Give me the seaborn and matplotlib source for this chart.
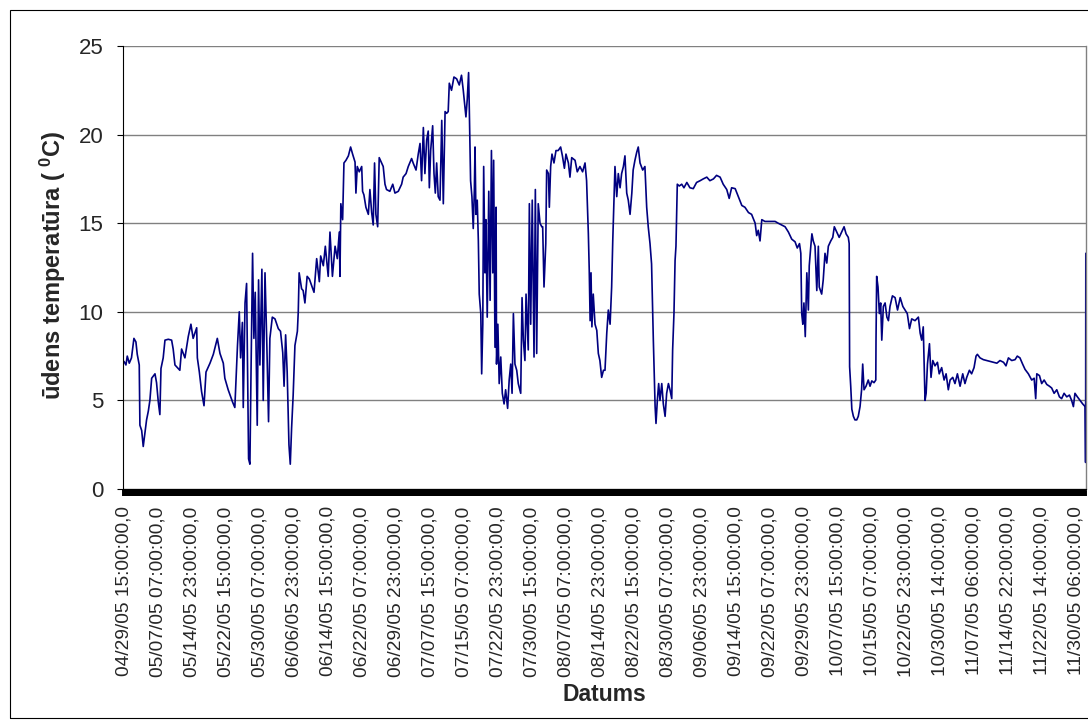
import matplotlib
matplotlib.use("Agg")
import matplotlib.pyplot as plt
from matplotlib.patches import Rectangle
from matplotlib.ticker import MultipleLocator
import numpy as np
import seaborn as sns

# water temperature, x = days since 04/29/05 15:00
day = [
    0.0, 0.45, 0.75, 1.2, 1.7, 2.25, 2.7, 3.0, 3.45, 3.6, 4.0, 4.35, 4.75, 5.1, 5.5, 5.85,
    6.25, 7.0, 7.35, 7.75, 8.1, 8.35, 8.85, 9.25, 10.0, 10.75, 11.1, 11.5, 12.6, 13.0, 13.75,
    14.5, 15.1, 15.6, 16.4, 16.55, 17.0, 17.5, 18.05, 18.5, 19.4, 20.15, 21.05, 21.65, 22.4,
    22.75, 23.5, 24.5, 25.0, 25.4, 25.6, 26.0, 26.3, 26.7, 26.9, 27.3, 27.65, 27.9, 28.1,
    28.4, 28.65, 29.0, 29.3, 29.6, 30.05, 30.35, 30.65, 31.1, 31.4, 31.8, 32.2, 32.6, 32.9,
    33.45, 34.05, 34.8, 35.3, 35.8, 36.1, 36.45, 36.8, 37.2, 37.5, 37.8, 38.15, 38.55, 39.1,
    39.3, 39.5, 40.05, 40.4, 40.8, 41.3, 41.8, 42.3, 42.85, 43.45, 44.05, 44.35, 44.95, 45.4,
    46.05, 46.45, 47.0, 47.6, 48.1, 48.55,
    48.7, 48.9, 49.3, 49.6, 50.05, 50.6, 51.1, 51.55, 52.1, 52.3, 52.6, 53.05, 53.6, 53.8,
    54.1, 54.55, 55.1, 55.45, 55.85, 56.2, 56.5, 56.8, 57.2, 57.55, 58.1, 58.45, 58.85, 59.2,
    59.95, 60.6, 61.1, 61.85, 62.6, 62.95, 63.6, 64.1, 64.85, 65.2, 65.85, 66.35, 66.75, 67.1,
    67.5, 67.85, 68.25, 68.6, 68.85, 69.15, 69.6, 69.9, 70.2, 70.5, 70.85, 71.25, 71.65, 72.0,
    72.4, 72.75, 73.1, 73.35, 73.85, 74.4, 75.0, 75.6, 76.1, 76.5, 76.85, 77.1, 77.4, 77.7,
    77.85, 78.15, 78.45, 78.75, 79.0, 79.15, 79.35, 79.65, 79.9, 80.1, 80.45, 80.65, 80.9,
    81.1, 81.4, 81.6, 81.9, 82.25, 82.55, 82.85, 83.15, 83.35, 83.65, 83.9, 84.0, 84.3, 84.6,
    84.95, 85.3, 85.7, 86.05, 86.5, 86.85, 87.2, 87.5, 87.8, 88.15, 88.55, 88.9, 89.45, 89.75,
    90.05, 90.4, 90.65, 91.15, 91.4, 91.7, 92.05, 92.45, 92.75, 93.05, 93.4,
    93.8, 94.2, 94.4, 94.7, 95.1, 95.3, 95.7, 95.9, 96.2, 96.5, 96.95, 97.4, 97.9, 98.45,
    98.85, 99.3, 99.65, 100.2, 100.55, 100.95, 101.7, 102.2, 102.8, 103.4, 103.95, 104.3,
    104.7, 104.9, 105.1, 105.3, 105.5, 105.8, 106.2, 106.6, 106.95, 107.3, 107.7, 108.1,
    108.45, 108.85, 109.2, 109.6, 109.95, 110.2, 110.5, 110.7, 111.1, 111.45, 111.85, 112.2,
    112.6, 112.95, 113.35, 113.7, 114.1, 114.5, 114.8, 115.2, 115.6, 115.95, 116.35, 116.95,
    117.45, 117.85, 118.2, 118.6, 118.95, 119.35, 119.75, 119.95, 120.25, 120.55, 120.85,
    121.25, 121.6, 122.0, 122.35, 122.75, 123.1, 123.5, 123.7, 124.0, 124.25, 124.45, 124.75,
    125.2, 125.75, 126.25, 126.9, 127.6, 128.35, 129.1, 129.9, 130.6, 131.4, 132.1, 132.9,
    133.6, 134.4,
    135.1, 135.9, 136.45, 137.0, 137.8, 138.5, 139.3, 140.0, 140.8, 141.5, 142.3, 142.65,
    143.0, 143.4, 143.8, 144.5, 145.65, 146.8, 147.5, 148.3, 149.05, 149.8, 150.55, 151.3,
    151.8, 152.3, 152.6, 152.8, 153.05, 153.3, 153.6, 153.95, 154.3, 154.5, 154.85, 155.1,
    155.4, 155.8, 156.2, 156.55, 156.75, 157.3, 157.65, 158.05, 158.45, 158.8, 159.35, 159.8,
    160.15, 160.7, 161.25, 161.8, 162.35, 162.8, 163.3, 163.5, 163.6, 163.85, 164.1, 164.45,
    164.8, 165.2, 165.55, 165.95, 166.3, 166.55, 166.85, 167.3, 167.8, 168.2, 168.6, 169.1,
    169.5, 169.55, 169.7, 170.0, 170.3, 170.6, 170.85, 171.2, 171.6, 172.0, 172.35, 172.7,
    173.25, 173.85, 174.4, 175.0, 175.6, 176.1, 176.6, 177.1, 177.6, 178.35, 179.1,
    179.5, 179.85, 180.2, 180.6, 180.85, 181.15, 181.6, 181.95, 182.35, 182.85, 183.4, 183.8,
    184.35, 184.9, 185.35, 185.85, 186.25, 186.85, 187.35, 187.9, 188.5, 189.1, 189.6, 190.0,
    190.6, 191.1, 191.65, 192.1, 192.4, 193.0, 193.75, 194.5, 195.25, 196.0, 196.8, 197.5,
    198.3, 198.85, 199.4, 200.15, 200.9, 201.4, 202.0, 202.6, 203.15, 203.9, 204.65, 205.2,
    205.55, 205.8, 206.4, 206.9, 207.45, 208.05, 208.65, 209.15, 209.7, 210.3, 210.9, 211.4,
    211.95, 212.55, 213.15, 213.65, 214.05, 214.4, 214.95, 215.55, 216.15, 216.7, 216.8,
    216.85,
]
temp = [
    7.2, 7.0, 7.5, 7.1, 7.4, 8.5, 8.3, 7.6, 7.0, 3.6, 3.3, 2.4, 3.2, 3.9, 4.4, 5.0,
    6.25, 6.5, 6.0, 4.9, 4.2, 6.8, 7.4, 8.4, 8.45, 8.4, 7.9, 7.0, 6.7, 7.9, 7.4,
    8.6, 9.3, 8.5, 9.1, 7.4, 6.6, 5.5, 4.7, 6.6, 7.1, 7.6, 8.5, 7.65, 7.1,
    6.25, 5.6, 4.9, 4.6, 7.0, 8.1, 10.0, 7.4, 9.4, 4.6, 10.5, 11.6, 6.1, 1.7,
    1.4, 6.6, 13.3, 8.5, 11.1, 3.6, 11.8, 7.0, 12.4, 5.0, 12.2, 8.3, 3.8, 8.5,
    9.7, 9.6, 9.05, 8.9, 7.7, 5.8, 8.7, 6.6, 2.5, 1.4, 3.45, 5.3, 8.1, 8.9,
    10.0, 12.2, 11.3, 11.2, 10.5, 12.0, 11.85, 11.5, 11.1, 13.0, 11.7, 13.15, 12.6, 13.7,
    12.0, 14.5, 12.0, 13.7, 13.0, 14.5,
    12.0, 16.1, 15.2, 18.4, 18.55, 18.8, 19.3, 18.9, 18.45, 16.7, 18.2, 17.9, 18.2, 16.8,
    16.6, 15.9, 15.5, 16.9, 15.6, 14.9, 18.4, 15.5, 14.8, 18.7, 18.4, 18.2, 17.2, 16.9,
    16.8, 17.2, 16.7, 16.8, 17.2, 17.6, 17.8, 18.2, 18.65, 18.4, 18.0, 18.9, 19.5, 17.4,
    20.4, 17.8, 19.7, 20.2, 17.0, 19.1, 20.5, 17.8, 16.7, 18.4, 16.5, 16.3, 20.8, 16.1,
    21.3, 21.2, 21.3, 22.9, 22.5, 23.25, 23.15, 22.8, 23.35, 22.5, 21.6, 21.0, 22.0, 23.5,
    21.6, 17.4, 16.5, 14.7, 16.9, 19.3, 15.5, 16.3, 14.0, 11.0, 9.9, 6.5, 9.3,
    18.2, 12.2, 15.2, 9.7, 16.8, 10.65, 19.1, 12.2, 18.55, 8.0, 15.9, 7.05, 9.3, 5.95,
    7.45, 5.4, 4.8, 5.6, 4.55, 6.15, 7.05, 5.4, 9.9, 7.05, 6.7, 5.95, 5.4, 10.8,
    8.4, 7.25, 11.0, 7.85, 16.1, 9.3, 16.3, 7.45, 16.9, 7.65, 16.1,
    15.0, 14.8, 14.8, 11.4, 13.85, 18.0, 17.8, 15.9, 18.2, 18.9, 18.4, 19.1, 19.1, 19.3,
    18.8, 18.1, 18.9, 18.4, 17.6, 18.7, 18.55, 17.9, 18.2, 17.9, 18.4, 17.4,
    14.4, 12.35, 9.5, 12.2, 9.15, 11.0, 9.3, 8.95, 7.65, 7.25, 6.3, 6.7,
    6.7, 8.8, 10.1, 9.3, 11.4, 14.0, 16.5, 18.2, 16.5, 17.8, 17.0, 17.8,
    18.2, 18.8, 16.7, 16.3, 15.5, 16.7, 18.0, 18.55, 19.0, 19.3, 18.4, 18.0,
    18.2, 15.9, 14.8, 13.85, 12.7, 8.4, 4.65, 3.7, 5.0, 5.95, 5.0,
    5.95, 4.8, 4.1, 5.4, 5.95, 5.6, 5.1, 7.85, 9.9, 12.9, 13.7, 17.2,
    17.1, 17.2, 17.0, 17.3, 17.0, 16.95, 17.3, 17.4, 17.5, 17.6, 17.4, 17.5,
    17.7, 17.6,
    17.2, 16.9, 16.4, 17.0, 16.95, 16.5, 16.0, 15.9, 15.6, 15.5, 15.0, 14.3,
    14.6, 14.0, 15.2, 15.1, 15.1, 15.1, 15.0, 14.9, 14.8, 14.5, 14.1, 13.95,
    13.6, 13.85, 13.3, 9.9, 9.3, 10.5, 8.6, 12.2, 10.1, 12.6, 13.7, 14.4,
    14.0, 13.7, 11.2, 13.7, 11.4, 11.0, 11.8, 13.3, 12.75, 13.7, 14.0, 14.2,
    14.8, 14.5, 14.2, 14.5, 14.8, 14.4, 14.2, 13.85, 6.9, 5.8, 4.5, 4.1,
    3.9, 3.9, 4.1, 4.65, 5.6, 7.05, 5.6, 5.8, 6.15, 5.8, 6.1, 6.0,
    6.15, 8.4, 12.0, 11.4, 9.9, 10.5, 8.4, 10.3, 10.5, 9.7, 9.5, 10.3,
    10.9, 10.8, 10.1, 10.8, 10.3, 10.1, 9.9, 9.05, 9.6, 9.5, 9.7,
    8.8, 8.4, 9.15, 5.0, 5.4, 7.05, 8.2, 6.3, 7.25, 6.95, 7.15, 6.5,
    6.85, 6.15, 6.5, 5.6, 6.15, 6.3, 5.95, 6.5, 5.8, 6.5, 5.95, 6.3,
    6.7, 6.5, 6.85, 7.5, 7.6, 7.4, 7.3, 7.25, 7.2, 7.15, 7.1, 7.25,
    7.15, 6.95, 7.4, 7.25, 7.3, 7.5, 7.4, 7.05, 6.75, 6.5, 6.15, 6.25,
    5.1, 6.5, 6.4, 5.95, 6.15, 5.9, 5.8, 5.7, 5.4, 5.6, 5.2, 5.1,
    5.4, 5.2, 5.3, 5.0, 4.65, 5.4, 5.2, 5.0, 4.8, 4.65, 1.5,
    13.3,
]

tick_labels = [
    "04/29/05 15:00:00,0", "05/07/05 07:00:00,0", "05/14/05 23:00:00,0",
    "05/22/05 15:00:00,0", "05/30/05 07:00:00,0", "06/06/05 23:00:00,0",
    "06/14/05 15:00:00,0", "06/22/05 07:00:00,0", "06/29/05 23:00:00,0",
    "07/07/05 15:00:00,0", "07/15/05 07:00:00,0", "07/22/05 23:00:00,0",
    "07/30/05 15:00:00,0", "08/07/05 07:00:00,0", "08/14/05 23:00:00,0",
    "08/22/05 15:00:00,0", "08/30/05 07:00:00,0", "09/06/05 23:00:00,0",
    "09/14/05 15:00:00,0", "09/22/05 07:00:00,0", "09/29/05 23:00:00,0",
    "10/07/05 15:00:00,0", "10/15/05 07:00:00,0", "10/22/05 23:00:00,0",
    "10/30/05 14:00:00,0", "11/07/05 06:00:00,0", "11/14/05 22:00:00,0",
    "11/22/05 14:00:00,0", "11/30/05 06:00:00,0",
]
label_step_h = 184  # one label every 184 hourly readings

sns.set_style("white")
plt.rcParams['font.family'] = ['Liberation Sans', 'DejaVu Sans']
plt.rcParams['mathtext.fontset'] = 'custom'
plt.rcParams['mathtext.rm'] = 'Liberation Sans:bold'
plt.rcParams['mathtext.it'] = 'Liberation Sans:bold'
plt.rcParams['mathtext.bf'] = 'Liberation Sans:bold'

fig = plt.figure(figsize=(10.88, 7.28), dpi=100)
ax = fig.add_axes([0.1131, 0.3283, 0.8851, 0.6085])

sns.lineplot(x=day, y=temp, estimator=None, sort=False, color='#000080',
             linewidth=1.2, ax=ax)

ax.set_xlim(-0.2, 216.9)
ax.set_ylim(0, 25)
ax.set_yticks(range(0, 26, 5))
ax.yaxis.grid(True, color='#808080', lw=1.0)
ax.xaxis.grid(False)
ax.set_axisbelow(True)

# Excel draws a tick for every hourly category -> solid black band
ax.set_xticks(np.arange(len(tick_labels)) * label_step_h / 24)
ax.set_xticklabels(tick_labels, rotation=90, fontsize=13.8)
ax.xaxis.set_minor_locator(MultipleLocator(0.1))
ax.tick_params(axis='x', which='both', direction='out', length=5, width=1.2,
               color='black', pad=7.5, bottom=True)
ax.tick_params(axis='y', direction='out', length=4.3, width=0.8, color='black',
               pad=10, labelsize=16, left=True)

ax.spines['top'].set_visible(False)
ax.spines['right'].set_color('#808080')
ax.spines['right'].set_linewidth(1.0)
ax.spines['left'].set_color('black')
ax.spines['left'].set_linewidth(0.8)
ax.spines['bottom'].set_color('black')
ax.spines['bottom'].set_linewidth(0.8)

ax.set_ylabel('ūdens temperatūra ( $^{0}$C)', fontsize=17, fontweight='bold',
              ha='center', va='center')
ax.yaxis.set_label_coords(-0.0727, 0.506)
ax.set_xlabel('Datums', fontsize=16.5, fontweight='bold', ha='center', va='center')
ax.xaxis.set_label_coords(0.5, -0.465)

fig.add_artist(Rectangle((10 / 1088, 1 - 718 / 728), 1.0, 708 / 728,
                         transform=fig.transFigure, fill=False, ec='black',
                         lw=0.8, clip_on=False))

fig.savefig('out.png', dpi=100)
